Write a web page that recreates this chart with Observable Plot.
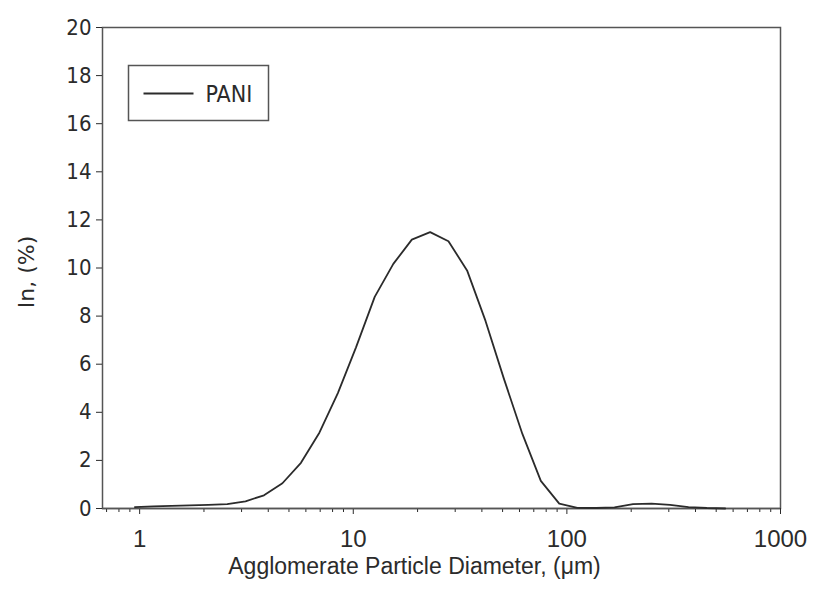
<!DOCTYPE html>
<html>
<head>
<meta charset="utf-8">
<script src="https://cdn.jsdelivr.net/npm/d3@7"></script>
<script src="https://cdn.jsdelivr.net/npm/@observablehq/plot@0.6"></script>
<style>
  html, body { margin: 0; padding: 0; background: #fff; }
  #chart { position: relative; width: 814px; height: 608px; }
</style>
</head>
<body>
<div id="chart"></div>
<script>
// Particle size distribution
const diameters = [0.95, 1.16, 1.41, 1.72, 2.10, 2.57, 3.13, 3.82, 4.66, 5.69, 6.94, 8.47, 10.3, 12.6, 15.4, 18.8, 22.9, 27.9, 34.1, 41.6, 50.7, 61.9, 75.5, 92.1, 112, 137, 167, 204, 249, 304, 371, 452, 551];
const percents  = [0.06, 0.09, 0.11, 0.13, 0.15, 0.18, 0.30, 0.55, 1.05, 1.90, 3.15, 4.80, 6.70, 8.80, 10.17, 11.18, 11.49, 11.11, 9.90, 7.80, 5.40, 3.10, 1.15, 0.20, 0.03, 0.02, 0.05, 0.18, 0.20, 0.15, 0.06, 0.02, 0.00];
const seriesName = "PANI";

const xMajorTicks = [1, 10, 100, 1000];
const xMinorTicks = [0.7, 0.8, 0.9, 2, 3, 4, 5, 6, 7, 8, 9, 20, 30, 40, 50, 60, 70, 80, 90, 200, 300, 400, 500, 600, 700, 800, 900];
const yTicks = [0, 2, 4, 6, 8, 10, 12, 14, 16, 18, 20];
const xLabel = "Agglomerate Particle Diameter, (\u03bcm)";
const yLabel = "In, (%)";

const data = diameters.map((d, i) => ({d, v: percents[i], s: seriesName}));

const ink = "#2b2b2b";
const frameInk = "#555";

const plot = Plot.plot({
  width: 814,
  height: 608,
  marginLeft: 102,
  marginRight: 34,
  marginTop: 27,
  marginBottom: 100,
  style: {background: "#fff", color: ink},
  x: {type: "log", domain: [0.67, 1000]},
  y: {domain: [0, 20]},
  marks: [
    Plot.frame({stroke: frameInk, strokeWidth: 1.5}),
    Plot.axisY(yTicks, {
      anchor: "left", tickSize: 6, tickPadding: 5,
      tickFormat: d => String(d), label: null,
      fontSize: 22, fontFamily: "DejaVu Sans Condensed", fill: ink
    }),
    Plot.axisX(xMinorTicks, {
      anchor: "bottom", tickSize: 4, tickFormat: () => "", label: null
    }),
    Plot.axisX(xMajorTicks, {
      anchor: "bottom", tickSize: 6, tickPadding: 15,
      tickFormat: d => String(d), label: null,
      fontSize: 24, fontFamily: "Liberation Sans", fill: ink
    }),
    Plot.ruleY([0], {stroke: frameInk, strokeWidth: 1.5}),
    Plot.line(data, {x: "d", y: "v", stroke: ink, strokeWidth: 1.8}),
    Plot.text([xLabel], {
      frameAnchor: "bottom", textAnchor: "middle", dx: -27, dy: 65, text: d => d,
      fontSize: 23, fontFamily: "Liberation Sans", fill: ink
    }),
    Plot.text([yLabel], {
      frameAnchor: "left", textAnchor: "middle", dx: -76, dy: 4, rotate: -90, text: d => d,
      fontSize: 22, fontFamily: "DejaVu Sans", fill: ink
    })
  ]
});

document.getElementById("chart").appendChild(plot);

// Legend box drawn into the same SVG
const svg = d3.select(plot);
const lg = svg.append("g").attr("transform", "translate(128.5,65.5)");
lg.append("rect").attr("width", 140).attr("height", 55)
  .attr("fill", "#fff").attr("stroke", frameInk).attr("stroke-width", 1.5);
lg.append("line").attr("x1", 15).attr("x2", 65).attr("y1", 28).attr("y2", 28)
  .attr("stroke", ink).attr("stroke-width", 1.8);
lg.append("text").attr("x", 77).attr("y", 28).attr("dy", "0.35em")
  .attr("text-anchor", "start")
  .attr("font-family", "DejaVu Sans Condensed").attr("font-size", 23).attr("fill", ink)
  .text(seriesName);
</script>
</body>
</html>
